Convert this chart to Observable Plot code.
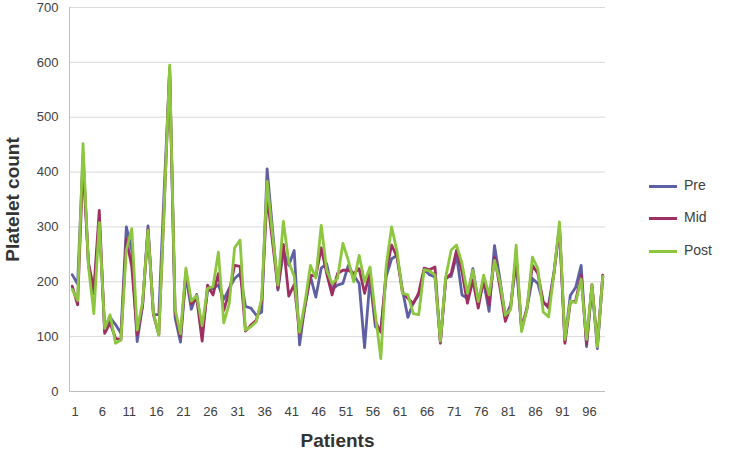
<!DOCTYPE html>
<html><head><meta charset="utf-8">
<script src="https://cdn.jsdelivr.net/npm/d3@7"></script>
<script src="https://cdn.jsdelivr.net/npm/@observablehq/plot@0.6"></script>
<style>
body{margin:0;background:#fff;font-family:"Liberation Sans",Arial,sans-serif;}
#wrap{position:relative;width:736px;height:449px;}
#legend{position:absolute;left:649px;top:0;}
.item{position:absolute;left:0;width:90px;height:20px;}
.sw{position:absolute;left:0;top:9px;width:28px;height:3px;}
.lb{position:absolute;left:35px;top:1px;font-size:14px;color:#404040;}
svg g[aria-label="x-axis label"] text, svg g[aria-label="y-axis label"] text{font-weight:bold;font-size:19px;fill:#333;}
</style></head><body><div id="wrap"><div id="chart"></div><div id="legend"></div></div>
<script>
const seriesNames = ["Pre", "Mid", "Post"];
const colors = ["#5f5fa3", "#9e2f62", "#8dc63f"];
const yTicks = [0, 100, 200, 300, 400, 500, 600, 700];
const xTicks = [1, 6, 11, 16, 21, 26, 31, 36, 41, 46, 51, 56, 61, 66, 71, 76, 81, 86, 91, 96];

const pre = [213,196,430,230,178,312,110,135,122,106,300,258,91,157,302,140,140,370,585,135,
  90,212,150,177,106,183,188,194,168,188,206,215,155,152,139,145,406,296,185,255,
  230,257,85,158,210,172,225,233,186,194,197,230,212,197,80,206,118,112,210,242,
  248,185,135,162,176,222,213,209,90,208,210,248,176,170,224,164,200,146,266,205,
  136,158,236,113,152,206,197,160,158,218,298,92,175,190,230,82,192,78,210];
const mid = [192,158,420,235,185,330,106,125,97,94,278,228,103,157,296,140,103,340,590,145,
  100,218,160,170,92,194,176,215,148,182,230,228,110,121,130,164,358,272,188,268,
  174,195,106,155,212,210,262,215,176,215,221,221,215,224,179,218,128,108,220,267,
  245,180,170,160,180,225,222,227,88,205,215,258,218,161,203,152,206,158,245,190,
  128,155,248,115,152,230,215,164,152,218,300,88,162,166,212,87,195,85,212];
const post = [186,166,452,228,142,308,115,140,88,94,258,297,112,163,294,143,103,340,595,150,
  105,225,165,175,120,188,191,254,125,160,262,276,112,118,127,170,383,286,194,310,
  236,210,108,163,230,207,303,221,197,206,270,239,200,248,200,227,140,60,230,300,
  255,179,176,142,140,222,220,212,92,209,258,267,233,179,221,164,212,176,239,200,
  139,150,267,109,150,245,224,145,136,218,309,95,165,162,205,95,195,82,210];

const seriesValues = [pre, mid, post];
const data = seriesNames.flatMap((s, i) =>
  seriesValues[i].map((v, j) => ({patient: j + 1, series: s, value: v})));

const chart = Plot.plot({
  width: 736, height: 449,
  marginLeft: 69, marginRight: 131, marginTop: 7, marginBottom: 58,
  style: {fontFamily: "Liberation Sans, Arial, sans-serif", fontSize: "13px", color: "#404040", background: "#fff"},
  x: {domain: [0.5, pre.length + 0.5]},
  y: {domain: [0, 700]},
  color: {domain: seriesNames, range: colors},
  marks: [
    Plot.gridY(yTicks, {stroke: "#d9d9d9", strokeOpacity: 1}),
    Plot.axisY(yTicks, {tickSize: 0, tickPadding: 11, label: "Platelet count", labelAnchor: "center", labelArrow: "none", labelOffset: 64}),
    Plot.axisX(xTicks, {tickSize: 0, tickPadding: 15, dx: 3, label: "Patients", labelAnchor: "center", labelArrow: "none", labelOffset: 55}),
    Plot.ruleX([0.5], {stroke: "#bfbfbf"}),
    Plot.ruleY([0], {stroke: "#bfbfbf"}),
    Plot.line(data, {x: "patient", y: "value", stroke: "series", z: "series", strokeWidth: 2.8, curve: "linear"})
  ]
});
document.getElementById("chart").appendChild(chart);

const legendTops = [176, 208, 241];
const legend = d3.select("#legend");
seriesNames.forEach((s, i) => {
  const it = legend.append("div").attr("class", "item").style("top", legendTops[i] + "px");
  it.append("div").attr("class", "sw").style("background", colors[i]);
  it.append("div").attr("class", "lb").text(s);
});
</script>
</body></html>
